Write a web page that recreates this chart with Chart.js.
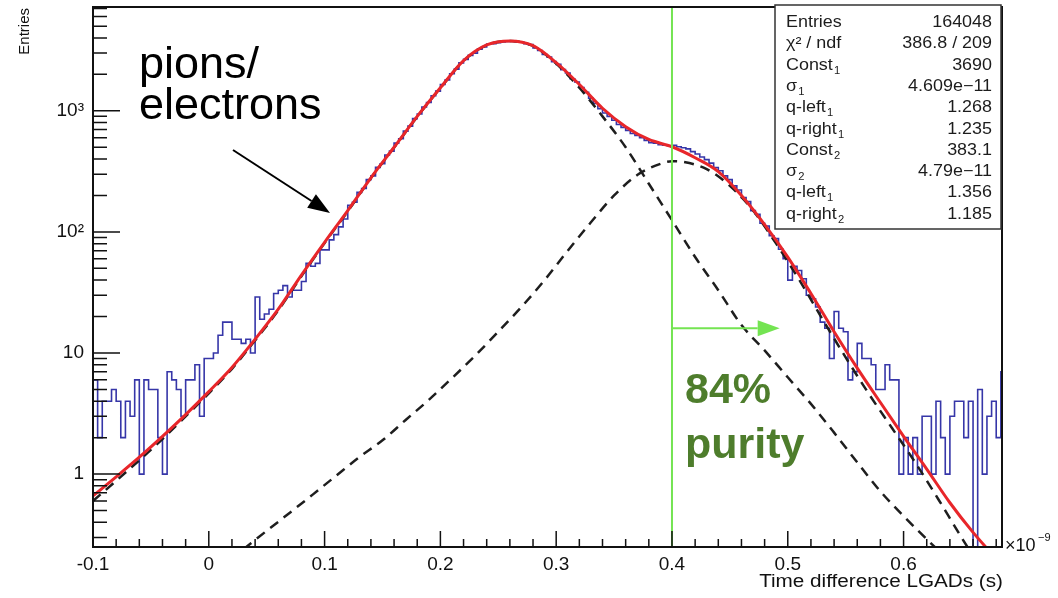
<!DOCTYPE html>
<html>
<head>
<meta charset="utf-8">
<script src="https://cdn.jsdelivr.net/npm/chart.js@4.4.1/dist/chart.umd.min.js"></script>
<style>
  html, body { margin: 0; padding: 0; background: #fff; }
  #wrap { width: 1058px; height: 598px; }
</style>
</head>
<body>
<div id="wrap"><canvas id="chart" width="1058" height="598"></canvas></div>
<script>
// x is in units of 1e-9 s, histogram bins of 0.004 starting at -0.1
const binStart = -0.1;
const binWidth = 0.004;
const counts = [
  6, 2, 4, 4, 5, 4, 2, 4, 3, 6,
  1, 6, 5, 5, 2, 1, 7, 6, 5, 3,
  6, 6, 8, 3, 9, 9, 10, 14, 18, 18,
  13, 13, 12, 13, 10, 29, 19, 21, 23, 31,
  33, 36, 29, 33, 33, 39, 55, 52, 55, 71,
  71, 86, 95, 110, 128, 166, 176, 212, 228, 270,
  290, 341, 366, 432, 465, 541, 588, 680, 748, 862,
  941, 1074, 1170, 1332, 1455, 1650, 1796, 2025, 2210, 2490,
  2660, 2870, 2995, 3230, 3370, 3560, 3590, 3650, 3710, 3735,
  3790, 3720, 3700, 3580, 3520, 3310, 3150, 2920, 2780, 2550,
  2420, 2190, 2050, 1840, 1730, 1560, 1420, 1270, 1150, 1040,
  960, 900, 835, 770, 730, 690, 650, 625, 600, 570,
  545, 540, 525, 520, 515, 520, 505, 495, 485, 460,
  440, 415, 395, 370, 340, 320, 290, 270, 240, 222,
  192, 178, 150, 140, 118, 112, 93, 88, 72,
  60, 40, 52, 48, 41, 30, 28, 24, 18, 16,
  9, 22, 16, 15, 6, 7, 12, 9, 9, 8,
  5, 5, 8, 6, 6, 1, 2, 1, 2, 1,
  3, 3, 1, 4, 2, 1, 3, 4, 4, 2,
  4, 0, 5, 1, 3, 4, 2, 7
];

// total fit (red)
const fitX = [-0.1, -0.08, -0.06, -0.04, -0.02, 0, 0.02, 0.04, 0.06, 0.08,
  0.1, 0.12, 0.14, 0.16, 0.18, 0.2, 0.22, 0.24, 0.26, 0.28,
  0.3, 0.32, 0.34, 0.36, 0.38, 0.4, 0.42, 0.44, 0.46, 0.48,
  0.5, 0.52, 0.54, 0.56, 0.58, 0.6, 0.62, 0.64, 0.66, 0.68];
const fitTotal = [0.66, 0.95, 1.38, 2.05, 3.1, 4.8, 7.6, 13, 23, 44,
  82, 150, 280, 500, 900, 1550, 2600, 3500, 3780, 3450,
  2500, 1650, 1050, 740, 580, 505, 410, 315, 200, 115,
  62, 31, 15, 7.5, 3.9, 2.05, 1.1, 0.58, 0.33, 0.2];

// component 1 (dashed)
const comp1X = [-0.1, -0.08, -0.06, -0.04, -0.02, 0, 0.02, 0.04, 0.06, 0.08,
  0.1, 0.12, 0.14, 0.16, 0.18, 0.2, 0.22, 0.24, 0.26, 0.28,
  0.3, 0.32, 0.34, 0.36, 0.38, 0.4, 0.42, 0.44, 0.46, 0.48,
  0.5, 0.52, 0.54, 0.56, 0.58, 0.6, 0.62, 0.64];
const comp1 = [0.6, 0.88, 1.3, 1.95, 3.0, 4.65, 7.4, 12.7, 22.5, 43,
  81, 148, 278, 497, 895, 1545, 2590, 3490, 3770, 3430,
  2450, 1550, 900, 500, 250, 125, 62, 33, 17, 10.5,
  6.3, 3.8, 2.2, 1.25, 0.72, 0.45, 0.29, 0.19];

// component 2 (dashed)
const comp2X = [0.03, 0.05, 0.07, 0.09, 0.11, 0.13, 0.15, 0.17, 0.19, 0.21,
  0.23, 0.25, 0.27, 0.29, 0.31, 0.33, 0.35, 0.37, 0.39, 0.4,
  0.41, 0.43, 0.45, 0.47, 0.49, 0.51, 0.53, 0.55, 0.57, 0.59,
  0.61, 0.63, 0.65, 0.67];
const comp2 = [0.24, 0.34, 0.48, 0.68, 0.97, 1.38, 1.9, 2.8, 4.1, 6.2,
  9.5, 15, 24, 40, 70, 120, 200, 295, 365, 383,
  378, 330, 240, 150, 80, 40, 19, 9.2, 4.6, 2.4,
  1.25, 0.62, 0.3, 0.15];

const xMin = -0.1, xMax = 0.685;
const yMin = 0.25, yMax = 7200;
const xTickValues = [-0.1, 0, 0.1, 0.2, 0.3, 0.4, 0.5, 0.6];
const xTickLabels = ['-0.1', '0', '0.1', '0.2', '0.3', '0.4', '0.5', '0.6'];
const yTickValues = [1, 10, 100, 1000];
const yTickLabels = ['1', '10', '10\u00B2', '10\u00B3'];

const statsNames = ['Entries', '\u03C7\u00B2 / ndf', 'Const_1', '\u03C3_1', 'q-left_1', 'q-right_1',
  'Const_2', '\u03C3_2', 'q-left_1', 'q-right_2'];
const statsValues = ['164048', '386.8 / 209', '3690', '4.609e\u221211', '1.268', '1.235',
  '383.1', '4.79e\u221211', '1.356', '1.185'];

const cutX = 0.4;
const purityArrow = { y: 16, toX: 0.493 };

const FONT = '"Liberation Sans", Arial, sans-serif';

function histPoints() {
  const pts = counts.map((c, i) => ({ x: binStart + i * binWidth, y: c > 0 ? c : yMin / 10 }));
  const last = counts[counts.length - 1];
  pts.push({ x: binStart + counts.length * binWidth, y: last > 0 ? last : yMin / 10 });
  return pts;
}

function drawArrow(ctx, x0, y0, x1, y1, color, lw, headLen, headHalf) {
  const dx = x1 - x0, dy = y1 - y0;
  const len = Math.hypot(dx, dy);
  const ux = dx / len, uy = dy / len;
  const bx = x1 - ux * headLen, by = y1 - uy * headLen;
  ctx.strokeStyle = color;
  ctx.fillStyle = color;
  ctx.lineWidth = lw;
  ctx.beginPath();
  ctx.moveTo(x0, y0);
  ctx.lineTo(bx, by);
  ctx.stroke();
  ctx.beginPath();
  ctx.moveTo(x1, y1);
  ctx.lineTo(bx - uy * headHalf, by + ux * headHalf);
  ctx.lineTo(bx + uy * headHalf, by - ux * headHalf);
  ctx.closePath();
  ctx.fill();
}

// text like "Const_1": draws the part after "_" as a subscript
function subText(ctx, str, x, y, size) {
  const [main, sub] = str.split('_');
  ctx.font = size + 'px ' + FONT;
  ctx.fillText(main, x, y);
  if (sub) {
    const w = ctx.measureText(main).width;
    ctx.font = Math.round(size * 0.62) + 'px ' + FONT;
    ctx.fillText(sub, x + w + 1, y + 4);
  }
}

const rootDecor = {
  id: 'rootDecor',
  afterDatasetsDraw(chart) {
    const { ctx, chartArea: a, scales: { x, y } } = chart;
    ctx.save();

    // cut line and arrow
    const cx = x.getPixelForValue(cutX);
    ctx.strokeStyle = '#74e452';
    ctx.lineWidth = 2;
    ctx.beginPath();
    ctx.moveTo(cx, a.top);
    ctx.lineTo(cx, a.bottom);
    ctx.stroke();
    const ay = y.getPixelForValue(purityArrow.y);
    drawArrow(ctx, cx, ay, x.getPixelForValue(purityArrow.toX), ay, '#74e452', 2, 22, 8);

    // frame
    ctx.strokeStyle = '#111';
    ctx.lineWidth = 2;
    ctx.strokeRect(a.left, a.top, a.right - a.left, a.bottom - a.top);

    // ticks inside the frame
    ctx.lineWidth = 1.5;
    ctx.beginPath();
    for (let k = 0; k * 0.02 + xMin <= xMax + 1e-9; k++) {
      const px = x.getPixelForValue(xMin + k * 0.02);
      const len = k % 5 === 0 ? 16 : 8;
      ctx.moveTo(px, a.bottom);
      ctx.lineTo(px, a.bottom - len);
    }
    for (let d = 0.1; d <= 1000; d *= 10) {
      for (let m = 1; m <= 9; m++) {
        const v = m * d;
        if (v < yMin || v > yMax) continue;
        const py = y.getPixelForValue(v);
        const len = m === 1 ? 27 : 14;
        ctx.moveTo(a.left, py);
        ctx.lineTo(a.left + len, py);
      }
    }
    ctx.stroke();

    // annotations
    ctx.fillStyle = '#000';
    ctx.font = '45px ' + FONT;
    ctx.textAlign = 'left';
    ctx.textBaseline = 'alphabetic';
    ctx.fillText('pions/', 139, 78);
    ctx.fillText('electrons', 139, 119);
    drawArrow(ctx, 233, 150, 330, 213, '#000', 2, 22, 8);

    ctx.fillStyle = '#4e7d2c';
    ctx.font = 'bold 43px ' + FONT;
    ctx.fillText('84%', 685, 403);
    ctx.fillText('purity', 685, 458);

    // stats box
    ctx.fillStyle = '#fff';
    ctx.fillRect(775, 5, 226, 224);
    ctx.strokeStyle = '#333';
    ctx.lineWidth = 1.5;
    ctx.strokeRect(775, 5, 226, 224);
    ctx.fillStyle = '#1c1c1c';
    statsNames.forEach((name, i) => {
      const by = 27 + i * 21.3;
      ctx.save();
      ctx.translate(786, by);
      ctx.scale(1.12, 1);
      ctx.textAlign = 'left';
      subText(ctx, name, 0, 0, 16);
      ctx.restore();
      ctx.save();
      ctx.translate(992, by);
      ctx.scale(1.12, 1);
      ctx.textAlign = 'right';
      ctx.font = '16px ' + FONT;
      ctx.fillText(statsValues[i], 0, 0);
      ctx.restore();
    });

    // axis titles
    ctx.fillStyle = '#111';
    ctx.save();
    ctx.translate(1003, 587);
    ctx.scale(1.15, 1);
    ctx.font = '18px ' + FONT;
    ctx.textAlign = 'right';
    ctx.fillText('Time difference LGADs (s)', 0, 0);
    ctx.restore();
    ctx.textAlign = 'left';
    ctx.font = '18px ' + FONT;
    ctx.fillText('\u00D710', 1005, 551);
    ctx.font = '11px ' + FONT;
    ctx.fillText('\u22129', 1038, 541);

    ctx.save();
    ctx.translate(29, 8);
    ctx.rotate(-Math.PI / 2);
    ctx.font = '15px ' + FONT;
    ctx.textAlign = 'right';
    ctx.fillText('Entries', 0, 0);
    ctx.restore();

    ctx.restore();
  }
};

new Chart(document.getElementById('chart'), {
  type: 'line',
  data: {
    datasets: [
      {
        label: 'fit',
        data: fitX.map((v, i) => ({ x: v, y: fitTotal[i] })),
        borderColor: '#e8262a',
        borderWidth: 3,
        pointRadius: 0,
        cubicInterpolationMode: 'monotone',
        order: 1
      },
      {
        label: 'comp1',
        data: comp1X.map((v, i) => ({ x: v, y: comp1[i] })),
        borderColor: '#1e1e1e',
        borderWidth: 2.5,
        borderDash: [10, 7],
        pointRadius: 0,
        cubicInterpolationMode: 'monotone',
        order: 2
      },
      {
        label: 'comp2',
        data: comp2X.map((v, i) => ({ x: v, y: comp2[i] })),
        borderColor: '#1e1e1e',
        borderWidth: 2.5,
        borderDash: [10, 7],
        pointRadius: 0,
        cubicInterpolationMode: 'monotone',
        order: 3
      },
      {
        label: 'data',
        data: histPoints(),
        borderColor: '#3636a8',
        borderWidth: 1.6,
        pointRadius: 0,
        stepped: 'before',
        order: 4
      }
    ]
  },
  options: {
    responsive: false,
    animation: false,
    events: [],
    layout: { padding: { left: 0, right: 56, top: 7, bottom: 0 } },
    plugins: {
      legend: { display: false },
      tooltip: { enabled: false }
    },
    scales: {
      x: {
        type: 'linear',
        min: xMin,
        max: xMax,
        grid: { display: false, drawTicks: false },
        border: { display: false },
        afterBuildTicks: s => { s.ticks = xTickValues.map(v => ({ value: v })); },
        afterFit: s => { s.height = 51; s.paddingLeft = 0; s.paddingRight = 0; },
        ticks: {
          autoSkip: false,
          maxRotation: 0,
          padding: 6,
          color: '#111',
          font: { family: FONT, size: 19 },
          callback: (v, i) => xTickLabels[i]
        }
      },
      y: {
        type: 'logarithmic',
        min: yMin,
        max: yMax,
        grid: { display: false, drawTicks: false },
        border: { display: false },
        afterBuildTicks: s => { s.ticks = yTickValues.map(v => ({ value: v })); },
        afterFit: s => { s.width = 93; s.paddingTop = 0; s.paddingBottom = 0; },
        ticks: {
          autoSkip: false,
          padding: 9,
          color: '#111',
          font: { family: FONT, size: 19 },
          callback: (v, i) => yTickLabels[i]
        }
      }
    }
  },
  plugins: [rootDecor]
});
</script>
</body>
</html>
